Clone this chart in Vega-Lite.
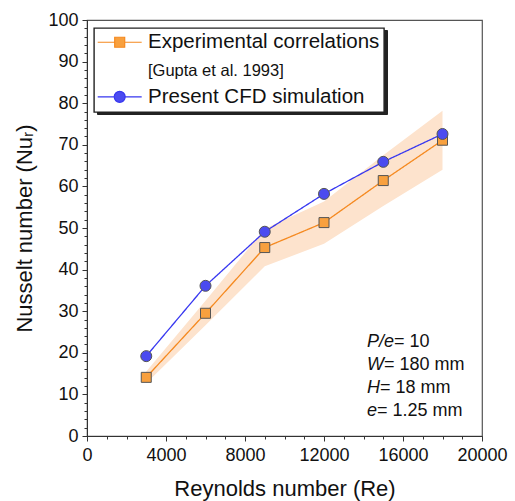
{
  "$schema": "https://vega.github.io/schema/vega-lite/v6.json",
  "autosize": "none",
  "width": 395,
  "height": 416,
  "padding": {"left": 87, "top": 20, "right": 33, "bottom": 65},
  "config": {
    "font": "Liberation Sans",
    "view": {"stroke": "#555555", "strokeWidth": 1.2}
  },
  "data": {
    "values": [
      {"series": "Experimental correlations", "Re": 3000, "Nu": 14.1, "lo": 12.7, "hi": 15.5},
      {"series": "Experimental correlations", "Re": 6000, "Nu": 29.5, "lo": 26.6, "hi": 32.5},
      {"series": "Experimental correlations", "Re": 9000, "Nu": 45.3, "lo": 40.8, "hi": 49.8},
      {"series": "Experimental correlations", "Re": 12000, "Nu": 51.3, "lo": 46.2, "hi": 56.4},
      {"series": "Experimental correlations", "Re": 15000, "Nu": 61.4, "lo": 55.3, "hi": 67.5},
      {"series": "Experimental correlations", "Re": 18000, "Nu": 71.1, "lo": 64.0, "hi": 78.2},
      {"series": "Present CFD simulation", "Re": 3000, "Nu": 19.2},
      {"series": "Present CFD simulation", "Re": 6000, "Nu": 36.1},
      {"series": "Present CFD simulation", "Re": 9000, "Nu": 49.1},
      {"series": "Present CFD simulation", "Re": 12000, "Nu": 58.2},
      {"series": "Present CFD simulation", "Re": 15000, "Nu": 65.9},
      {"series": "Present CFD simulation", "Re": 18000, "Nu": 72.6}
    ]
  },
  "resolve": {"axis": {"x": "independent", "y": "independent"}},
  "layer": [
    {
      "transform": [{"filter": "datum.series === 'Experimental correlations'"}],
      "mark": {"type": "area", "fill": "#fde3cd", "opacity": 1},
      "encoding": {
        "x": {"field": "Re", "type": "quantitative", "scale": {"domain": [0, 20000], "nice": false},
          "axis": {"orient": "bottom", "values": [1000,2000,3000,5000,6000,7000,9000,10000,11000,13000,14000,15000,17000,18000,19000], "labels": false, "domain": false, "grid": false, "tickSize": 3, "tickColor": "#333333", "title": null}},
        "y": {"field": "lo", "type": "quantitative", "scale": {"domain": [0, 100], "nice": false},
          "axis": {"orient": "left", "values": [2,4,6,8,12,14,16,18,22,24,26,28,32,34,36,38,42,44,46,48,52,54,56,58,62,64,66,68,72,74,76,78,82,84,86,88,92,94,96,98], "labels": false, "domain": false, "grid": false, "tickSize": 3, "tickColor": "#333333", "title": null}},
        "y2": {"field": "hi"}
      }
    },
    {
      "mark": {"type": "line", "strokeWidth": 1.3},
      "encoding": {
        "x": {"field": "Re", "type": "quantitative",
          "axis": {"orient": "bottom", "values": [0,4000,8000,12000,16000,20000], "format": "d", "grid": false, "tickSize": 5, "tickColor": "#333333", "domainColor": "#333333", "labelFontSize": 18, "labelColor": "#111111", "labelPadding": 5, "labelFlush": false, "title": "Reynolds number (Re)", "titleFontSize": 22, "titleFontWeight": "normal", "titleColor": "#111111", "titlePadding": 14}},
        "y": {"field": "Nu", "type": "quantitative",
          "axis": {"orient": "left", "values": [0,10,20,30,40,50,60,70,80,90,100], "grid": false, "tickSize": 5, "tickColor": "#333333", "domainColor": "#333333", "labelFontSize": 18, "labelColor": "#111111", "labelPadding": 4, "title": "Nusselt number (Nuᵣ)", "titleFontSize": 22, "titleFontWeight": "normal", "titleColor": "#111111", "titlePadding": 11}},
        "color": {"field": "series", "type": "nominal",
          "scale": {"domain": ["Experimental correlations", "[Gupta et al. 1993]", "Present CFD simulation"], "range": ["#f5891f", "#ffffff", "#3737f0"]},
          "legend": {
            "orient": "none", "legendX": 7, "legendY": 8, "zindex": 1,
            "title": null, "strokeColor": "#222222", "fillColor": "#ffffff", "padding": 4,
            "labelFontSize": 20.5, "labelColor": "#111111", "labelOffset": 29.5, "rowPadding": 7.3, "symbolSize": 100, "symbolStrokeWidth": 1.2, "labelLimit": 400,
            "encode": {
              "legend": {"update": {"strokeWidth": {"value": 1.4}}},
              "symbols": {"update": {
                "shape": {"signal": "datum.value === 'Present CFD simulation' ? 'M-4.4,0H-1.1M1.1,0H4.4M1.1,0A1.1,1.1,0,1,1,-1.1,0A1.1,1.1,0,1,1,1.1,0Z' : 'M-4.4,0H-1M1,0H4.4M-1,-1H1V1H-1Z'"},
                "x": {"value": 21.7},
                "fill": {"signal": "datum.value === 'Present CFD simulation' ? '#4b4bf0' : '#f8a03e'"},
                "stroke": {"signal": "datum.value === 'Present CFD simulation' ? '#3737f0' : '#f5891f'"},
                "opacity": {"signal": "datum.value === '[Gupta et al. 1993]' ? 0 : 1"}
              }},
              "labels": {"update": {"fontSize": {"signal": "datum.value === '[Gupta et al. 1993]' ? 16.5 : 20.5"}}}
            }
          }},
        "strokeDash": {"field": "series", "type": "nominal",
          "scale": {"domain": ["Experimental correlations", "[Gupta et al. 1993]", "Present CFD simulation"], "range": [[1, 0], [1, 0], [1, 0]]},
          "legend": {
            "orient": "top-left", "offset": 10, "zindex": 0,
            "title": null, "strokeColor": "#222222", "fillColor": "#222222", "padding": 4,
            "labelFontSize": 20.5, "labelExpr": "''", "labelOffset": 260.8, "rowPadding": 7.3, "symbolSize": 100, "symbolStrokeWidth": 1.2, "symbolOpacity": 0, "labelLimit": 400,
            "encode": {
              "labels": {"update": {"fontSize": {"signal": "datum.value === '[Gupta et al. 1993]' ? 16.5 : 20.5"}}}
            }
          }}
      }
    },
    {
      "mark": {"type": "point", "filled": true, "opacity": 1, "stroke": "#555555", "strokeWidth": 1},
      "encoding": {
        "x": {"field": "Re", "type": "quantitative", "axis": null},
        "y": {"field": "Nu", "type": "quantitative", "axis": null},
        "fill": {"field": "series", "type": "nominal", "scale": {"domain": ["Experimental correlations", "Present CFD simulation"], "range": ["#f8a03e", "#4b4bf0"]}, "legend": null},
        "shape": {"field": "series", "type": "nominal", "scale": {"domain": ["Experimental correlations", "Present CFD simulation"], "range": ["square", "circle"]}, "legend": null},
        "size": {"field": "series", "type": "nominal", "scale": {"domain": ["Experimental correlations", "Present CFD simulation"], "range": [100, 121]}, "legend": null}
      }
    },
    {"data": {"values": [{}]}, "mark": {"type": "text", "fontStyle": "italic", "fontSize": 18, "align": "left", "baseline": "middle", "color": "#111111", "text": "P/e"}, "encoding": {"x": {"datum": 14180, "type": "quantitative", "axis": null}, "y": {"datum": 22.7, "type": "quantitative", "axis": null}}},
    {"data": {"values": [{}]}, "mark": {"type": "text", "fontSize": 18, "align": "left", "baseline": "middle", "color": "#111111", "text": "= 10"}, "encoding": {"x": {"datum": 15547, "type": "quantitative", "axis": null}, "y": {"datum": 22.7, "type": "quantitative", "axis": null}}},
    {"data": {"values": [{}]}, "mark": {"type": "text", "fontStyle": "italic", "fontSize": 18, "align": "left", "baseline": "middle", "color": "#111111", "text": "W"}, "encoding": {"x": {"datum": 14180, "type": "quantitative", "axis": null}, "y": {"datum": 17.1, "type": "quantitative", "axis": null}}},
    {"data": {"values": [{}]}, "mark": {"type": "text", "fontSize": 18, "align": "left", "baseline": "middle", "color": "#111111", "text": "= 180 mm"}, "encoding": {"x": {"datum": 15040, "type": "quantitative", "axis": null}, "y": {"datum": 17.1, "type": "quantitative", "axis": null}}},
    {"data": {"values": [{}]}, "mark": {"type": "text", "fontStyle": "italic", "fontSize": 18, "align": "left", "baseline": "middle", "color": "#111111", "text": "H"}, "encoding": {"x": {"datum": 14180, "type": "quantitative", "axis": null}, "y": {"datum": 11.5, "type": "quantitative", "axis": null}}},
    {"data": {"values": [{}]}, "mark": {"type": "text", "fontSize": 18, "align": "left", "baseline": "middle", "color": "#111111", "text": "= 18 mm"}, "encoding": {"x": {"datum": 14838, "type": "quantitative", "axis": null}, "y": {"datum": 11.5, "type": "quantitative", "axis": null}}},
    {"data": {"values": [{}]}, "mark": {"type": "text", "fontStyle": "italic", "fontSize": 18, "align": "left", "baseline": "middle", "color": "#111111", "text": "e"}, "encoding": {"x": {"datum": 14180, "type": "quantitative", "axis": null}, "y": {"datum": 5.9, "type": "quantitative", "axis": null}}},
    {"data": {"values": [{}]}, "mark": {"type": "text", "fontSize": 18, "align": "left", "baseline": "middle", "color": "#111111", "text": "= 1.25 mm"}, "encoding": {"x": {"datum": 14686, "type": "quantitative", "axis": null}, "y": {"datum": 5.9, "type": "quantitative", "axis": null}}}
  ]
}
